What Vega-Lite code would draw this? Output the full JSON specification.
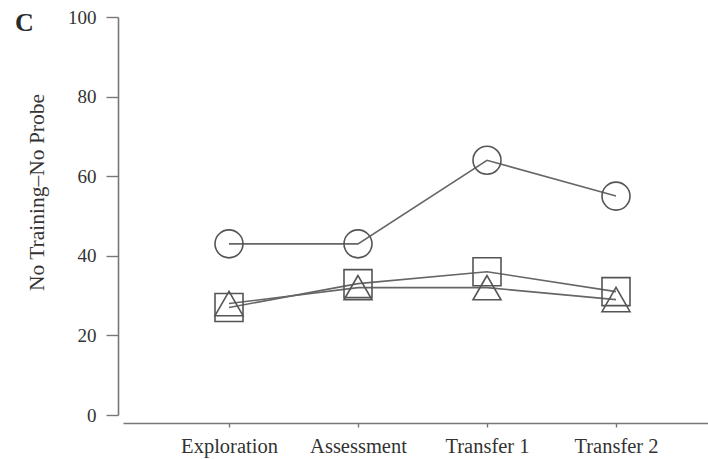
{
  "$schema": "https://vega.github.io/schema/vega-lite/v6.json",
  "autosize": "none",
  "width": 599,
  "height": 398,
  "padding": {"left": 123, "top": 17, "right": 0, "bottom": 44},
  "background": "white",
  "title": {
    "text": "C",
    "anchor": "start",
    "frame": "group",
    "font": "Liberation Serif",
    "fontSize": 26,
    "fontWeight": "bold",
    "color": "#2a2a2a",
    "baseline": "top",
    "dx": -108,
    "dy": 28,
    "offset": 0
  },
  "config": {
    "view": {"stroke": null},
    "axis": {
      "labelFont": "Liberation Serif",
      "titleFont": "Liberation Serif",
      "labelColor": "#333333",
      "titleColor": "#333333",
      "domainColor": "#777777",
      "tickColor": "#777777",
      "domainWidth": 1.6,
      "tickWidth": 1.4,
      "grid": false
    }
  },
  "data": {
    "values": [
      {"stage": "Exploration", "group": "g1", "score": 43},
      {"stage": "Assessment", "group": "g1", "score": 43},
      {"stage": "Transfer 1", "group": "g1", "score": 64},
      {"stage": "Transfer 2", "group": "g1", "score": 55},
      {"stage": "Exploration", "group": "g2", "score": 27},
      {"stage": "Assessment", "group": "g2", "score": 33},
      {"stage": "Transfer 1", "group": "g2", "score": 36},
      {"stage": "Transfer 2", "group": "g2", "score": 31},
      {"stage": "Exploration", "group": "g3", "score": 28},
      {"stage": "Assessment", "group": "g3", "score": 32},
      {"stage": "Transfer 1", "group": "g3", "score": 32},
      {"stage": "Transfer 2", "group": "g3", "score": 29}
    ]
  },
  "encoding": {
    "x": {
      "field": "stage",
      "type": "ordinal",
      "sort": ["Exploration", "Assessment", "Transfer 1", "Transfer 2"],
      "scale": {"type": "point", "padding": 0.8217},
      "axis": {
        "title": null,
        "labelAngle": 0,
        "labelFontSize": 20.5,
        "labelPadding": 9,
        "tickSize": 4,
        "offset": 8
      }
    },
    "y": {
      "field": "score",
      "type": "quantitative",
      "scale": {"domain": [0, 100], "nice": false},
      "axis": {
        "title": "No Training–No Probe",
        "titleFontSize": 21.5,
        "titleFontWeight": "normal",
        "titleX": -70,
        "titleY": 175,
        "titleAngle": -90,
        "titleBaseline": "bottom",
        "titleAlign": "center",
        "values": [0, 20, 40, 60, 80, 100],
        "labelFontSize": 19,
        "labelPadding": 10,
        "tickSize": 12,
        "offset": 5
      }
    }
  },
  "layer": [
    {
      "mark": {"type": "line", "color": "#666666", "strokeWidth": 1.6},
      "encoding": {"detail": {"field": "group"}}
    },
    {
      "mark": {"type": "point", "filled": false, "color": "#555555", "strokeWidth": 1.6, "opacity": 1},
      "encoding": {
        "shape": {
          "field": "group",
          "scale": {"domain": ["g1", "g2", "g3"], "range": ["circle", "square", "triangle-up"]},
          "legend": null
        },
        "size": {
          "field": "group",
          "type": "ordinal",
          "scale": {"domain": ["g1", "g2", "g3"], "range": [784, 784, 1000]},
          "legend": null
        }
      }
    }
  ]
}
